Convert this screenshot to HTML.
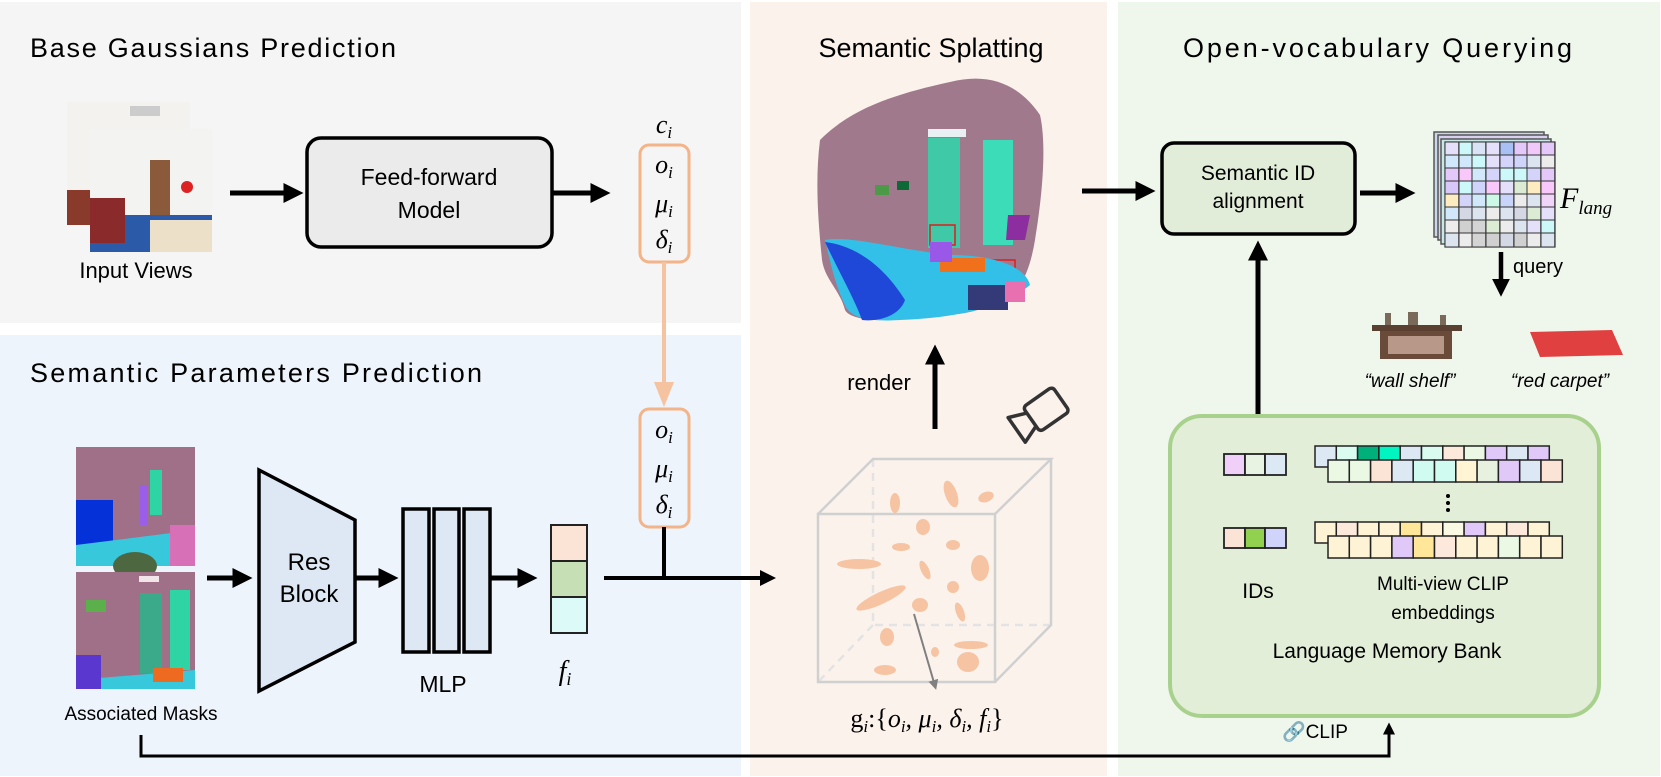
<!DOCTYPE html>
<html><head><meta charset="utf-8"><style>
html,body{margin:0;padding:0;background:#fff;}
svg{display:block;}
.t{font-family:"Liberation Sans",sans-serif;fill:#000;}
.m{font-family:"Liberation Serif",serif;font-style:italic;fill:#000;}
</style></head><body>
<svg width="1661" height="777" viewBox="0 0 1661 777" xmlns="http://www.w3.org/2000/svg">
<defs>
<marker id="ah" markerWidth="4" markerHeight="4" refX="2.5" refY="2" orient="auto" markerUnits="strokeWidth"><path d="M0,0 L4,2 L0,4 z" fill="#000"/></marker>
<marker id="ahg" markerWidth="5" markerHeight="5" refX="3" refY="2.5" orient="auto" markerUnits="strokeWidth"><path d="M0,0 L5,2.5 L0,5 z" fill="#808080"/></marker>
</defs>
<rect x="0" y="2" width="741" height="321" fill="#f5f5f5"/>
<rect x="0" y="335" width="741" height="441" fill="#edf4fb"/>
<rect x="750" y="2" width="357" height="774" fill="#fbf2ec"/>
<rect x="1118" y="2" width="542" height="774" fill="#eff6ec"/>

<text class="t" x="30" y="57" font-size="27" textLength="366">Base Gaussians Prediction</text>
<text class="t" x="30" y="382" font-size="27" textLength="452">Semantic Parameters Prediction</text>
<text class="t" x="931" y="57" font-size="27" text-anchor="middle">Semantic Splatting</text>
<text class="t" x="1183" y="57" font-size="27" textLength="389">Open-vocabulary Querying</text>

<rect x="67" y="102" width="123" height="123" fill="#f4f2ef"/>
<rect x="130" y="106" width="30" height="10" fill="#ccc"/>
<rect x="67" y="190" width="40" height="35" fill="#8a3a2a"/>
<rect x="90" y="129" width="122" height="123" fill="#f3f3f1"/>
<rect x="150" y="160" width="20" height="60" fill="#8a5a3a"/>
<rect x="90" y="215" width="122" height="37" fill="#2a5aa8"/>
<rect x="90" y="198" width="35" height="45" fill="#8a2a2a"/>
<rect x="150" y="220" width="62" height="32" fill="#ece0c8"/>
<circle cx="187" cy="187" r="6" fill="#d22"/>
<text class="t" x="136" y="278" font-size="22" text-anchor="middle">Input Views</text>

<line x1="230" y1="193" x2="296" y2="193" stroke="#000" stroke-width="5" marker-end="url(#ah)"/>
<rect x="307" y="138" width="245" height="109" rx="14" fill="#ebebeb" stroke="#000" stroke-width="3.5"/>
<text class="t" x="429" y="185" font-size="23" text-anchor="middle">Feed-forward</text>
<text class="t" x="429" y="218" font-size="23" text-anchor="middle">Model</text>
<line x1="552" y1="193" x2="603" y2="193" stroke="#000" stroke-width="5" marker-end="url(#ah)"/>

<text class="m" x="664" y="133" font-size="26" text-anchor="middle">c<tspan font-size="17" dy="5">i</tspan></text>
<rect x="640" y="145" width="49" height="117" rx="9" fill="none" stroke="#f4b489" stroke-width="3"/>
<text class="m" x="664" y="173" font-size="26" text-anchor="middle">o<tspan font-size="17" dy="5">i</tspan></text>
<text class="m" x="664" y="212" font-size="26" text-anchor="middle">μ<tspan font-size="17" dy="5">i</tspan></text>
<text class="m" x="664" y="248" font-size="26" text-anchor="middle">δ<tspan font-size="17" dy="5">i</tspan></text>
<line x1="664" y1="262" x2="664" y2="384" stroke="#f6c3a0" stroke-width="4"/>
<path d="M654,382 L674,382 L664,407 z" fill="#f6c3a0"/>
<rect x="640" y="409" width="49" height="118" rx="9" fill="none" stroke="#f4b489" stroke-width="3"/>
<text class="m" x="664" y="438" font-size="26" text-anchor="middle">o<tspan font-size="17" dy="5">i</tspan></text>
<text class="m" x="664" y="477" font-size="26" text-anchor="middle">μ<tspan font-size="17" dy="5">i</tspan></text>
<text class="m" x="664" y="513" font-size="26" text-anchor="middle">δ<tspan font-size="17" dy="5">i</tspan></text>
<line x1="664" y1="527" x2="664" y2="578" stroke="#000" stroke-width="4"/>
<line x1="604" y1="578" x2="770" y2="578" stroke="#000" stroke-width="4" marker-end="url(#ah)"/>

<rect x="76" y="447" width="119" height="119" fill="#9f7088"/>
<rect x="76" y="500" width="37" height="60" fill="#0532d8"/>
<path d="M76,545 L195,530 L195,566 L76,566z" fill="#38c8dc"/>
<rect x="140" y="485" width="8" height="40" fill="#9b5ee8"/>
<rect x="150" y="470" width="12" height="45" fill="#2ed4a4"/>
<ellipse cx="135" cy="566" rx="22" ry="14" fill="#4d6840"/>
<rect x="170" y="525" width="25" height="41" fill="#d870b8"/>
<rect x="76" y="572" width="119" height="117" fill="#9f7088"/>
<rect x="140" y="593" width="22" height="80" fill="#3aaa8a"/>
<rect x="170" y="590" width="20" height="80" fill="#2ed4a4"/>
<rect x="86" y="600" width="20" height="12" fill="#5cb04c"/>
<path d="M76,680 L195,670 L195,689 L76,689z" fill="#38c8dc"/>
<rect x="76" y="655" width="25" height="34" fill="#5a38d0"/>
<rect x="153" y="668" width="30" height="14" fill="#ee6a20"/>
<rect x="139" y="576" width="20" height="6" fill="#f3e4ea"/>
<text class="t" x="141" y="720" font-size="19" text-anchor="middle">Associated Masks</text>

<line x1="207" y1="578" x2="245" y2="578" stroke="#000" stroke-width="5" marker-end="url(#ah)"/>
<path d="M259,470 L355,520 L355,642 L259,691 z" fill="#dde8f4" stroke="#000" stroke-width="3.5"/>
<text class="t" x="309" y="570" font-size="24" text-anchor="middle">Res</text>
<text class="t" x="309" y="602" font-size="24" text-anchor="middle">Block</text>
<line x1="355" y1="578" x2="391" y2="578" stroke="#000" stroke-width="5" marker-end="url(#ah)"/>
<rect x="403" y="509" width="26" height="143" fill="#dde8f4" stroke="#000" stroke-width="3.5"/>
<rect x="434" y="509" width="25" height="143" fill="#dde8f4" stroke="#000" stroke-width="3.5"/>
<rect x="464" y="509" width="26" height="143" fill="#dde8f4" stroke="#000" stroke-width="3.5"/>
<text class="t" x="443" y="692" font-size="23" text-anchor="middle">MLP</text>
<line x1="490" y1="578" x2="530" y2="578" stroke="#000" stroke-width="5" marker-end="url(#ah)"/>
<rect x="551" y="525" width="36" height="36" fill="#fbe4d6" stroke="#222" stroke-width="2"/>
<rect x="551" y="561" width="36" height="36" fill="#c6dfb4" stroke="#222" stroke-width="2"/>
<rect x="551" y="597" width="36" height="36" fill="#dcfbf8" stroke="#222" stroke-width="2"/>
<text class="m" x="565" y="680" font-size="28" text-anchor="middle">f<tspan font-size="18" dy="5">i</tspan></text>

<polyline points="141,735 141,756 1389,756 1389,727" fill="none" stroke="#000" stroke-width="3" marker-end="url(#ah)"/>
<text class="t" x="1282" y="738" font-size="19">🔗CLIP</text>

<path d="M820,140 C850,110 890,95 950,82 C990,72 1020,85 1040,115 C1048,150 1040,210 1035,240 C1030,270 1020,300 990,305 C960,320 930,312 900,318 C880,322 850,320 845,310 C840,290 825,280 822,260 C818,220 815,180 820,140z" fill="#a07a8c"/>
<rect x="928" y="138" width="32" height="110" fill="#3fc9a6"/>
<rect x="983" y="140" width="30" height="105" fill="#3cdcb8"/>
<rect x="928" y="129" width="38" height="8" fill="#e8f0f4"/>
<rect x="930" y="225" width="25" height="20" fill="none" stroke="#e01c1c" stroke-width="1.5"/>
<rect x="990" y="260" width="25" height="20" fill="none" stroke="#e01c1c" stroke-width="1.5"/>
<path d="M825,240 C850,235 900,250 950,255 C990,255 1025,265 1030,285 C1000,310 950,318 900,320 C870,322 850,318 845,305 C835,285 830,260 825,240z" fill="#33c0e8"/>
<path d="M825,242 C850,245 880,260 905,300 C900,315 880,322 862,320 C855,300 838,270 825,242z" fill="#1f48d8"/>
<rect x="940" y="258" width="45" height="14" fill="#f0701c"/>
<rect x="930" y="242" width="22" height="20" fill="#9a58e8"/>
<path d="M1008,215 L1030,215 L1025,240 L1006,240z" fill="#8c2ea0"/>
<rect x="875" y="185" width="14" height="10" fill="#4c9a48"/>
<rect x="897" y="181" width="12" height="9" fill="#0d6a38"/>
<rect x="968" y="285" width="40" height="25" fill="#343a78"/>
<rect x="1005" y="282" width="20" height="20" fill="#e870b0"/>
<line x1="935" y1="429" x2="935" y2="352" stroke="#000" stroke-width="5" marker-end="url(#ah)"/>
<text class="t" x="879" y="390" font-size="22" text-anchor="middle">render</text>
<g transform="translate(1038,415) rotate(-35)" fill="none" stroke="#333" stroke-width="3.5" stroke-linejoin="round">
<rect x="-8" y="-15" width="36" height="30" rx="4"/>
<path d="M-8,-8 L-26,-15 L-26,15 L-8,8"/>
</g>
<g fill="none" stroke="#d0d0d0" stroke-width="2.5">
<path d="M873,459 L873,625 L1051,625 M873,625 L818,682" stroke="#e3e3e3" stroke-dasharray="8,6"/>
<rect x="818" y="514" width="177" height="168"/>
<path d="M818,514 L873,459 L1051,459 L995,514 M1051,459 L1051,625 L995,682"/>
</g>
<g fill="#f6c4a2">
<ellipse cx="895" cy="503" rx="5" ry="10"/>
<ellipse cx="951" cy="494" rx="6" ry="14" transform="rotate(-20 951 494)"/>
<ellipse cx="986" cy="497" rx="8" ry="5" transform="rotate(-20 986 497)"/>
<ellipse cx="923" cy="527" rx="7" ry="8"/>
<ellipse cx="901" cy="547" rx="9" ry="4"/>
<ellipse cx="953" cy="545" rx="7" ry="5"/>
<ellipse cx="859" cy="564" rx="22" ry="5"/>
<ellipse cx="925" cy="570" rx="4" ry="10" transform="rotate(-25 925 570)"/>
<ellipse cx="980" cy="568" rx="9" ry="13"/>
<ellipse cx="881" cy="598" rx="27" ry="6" transform="rotate(-25 881 598)"/>
<ellipse cx="953" cy="587" rx="6" ry="6"/>
<ellipse cx="920" cy="605" rx="8" ry="7"/>
<ellipse cx="960" cy="612" rx="4" ry="10" transform="rotate(-20 960 612)"/>
<ellipse cx="887" cy="637" rx="7" ry="9"/>
<ellipse cx="971" cy="645" rx="17" ry="4"/>
<ellipse cx="935" cy="652" rx="4" ry="5"/>
<ellipse cx="968" cy="662" rx="11" ry="10"/>
<ellipse cx="885" cy="670" rx="11" ry="5"/>
</g>
<line x1="914" y1="614" x2="935" y2="686" stroke="#808080" stroke-width="2" marker-end="url(#ahg)"/>
<text x="927" y="727" font-size="26" text-anchor="middle" class="m"><tspan font-style="normal">g</tspan><tspan font-size="17" dy="5">i</tspan><tspan dy="-5" font-style="normal">:{</tspan>o<tspan font-size="17" dy="5">i</tspan><tspan dy="-5">, μ</tspan><tspan font-size="17" dy="5">i</tspan><tspan dy="-5">, δ</tspan><tspan font-size="17" dy="5">i</tspan><tspan dy="-5">, f</tspan><tspan font-size="17" dy="5">i</tspan><tspan dy="-5" font-style="normal">}</tspan></text>

<line x1="1082" y1="191" x2="1148" y2="191" stroke="#000" stroke-width="5" marker-end="url(#ah)"/>
<rect x="1162" y="143" width="193" height="91" rx="12" fill="#e2edd9" stroke="#000" stroke-width="3.5"/>
<text class="t" x="1258" y="180" font-size="21" text-anchor="middle">Semantic ID</text>
<text class="t" x="1258" y="208" font-size="21" text-anchor="middle">alignment</text>
<line x1="1360" y1="193" x2="1408" y2="193" stroke="#000" stroke-width="5" marker-end="url(#ah)"/>
<g stroke="#555" stroke-width="1.5">
<rect x="1434" y="132" width="110" height="105" fill="#c9d8e8"/>
<rect x="1438" y="135" width="110" height="105" fill="#d8d0ee"/>
<rect x="1441" y="139" width="110" height="105" fill="#c8e8e8"/>
</g>
<rect x="1445" y="142" width="110" height="105" fill="#e0e6f2" stroke="#333" stroke-width="1.2"/>
<g stroke="#333" stroke-width="1">
<rect x="1445" y="142" width="13.75" height="13" fill="#e4e0fa"/><rect x="1459" y="142" width="13.75" height="13" fill="#ccf8fa"/><rect x="1472" y="142" width="13.75" height="13" fill="#d8e4f6"/><rect x="1486" y="142" width="13.75" height="13" fill="#e4e0fa"/><rect x="1500" y="142" width="13.75" height="13" fill="#a8c0f4"/><rect x="1514" y="142" width="13.75" height="13" fill="#e4c8fa"/><rect x="1527" y="142" width="13.75" height="13" fill="#f0c8fa"/><rect x="1541" y="142" width="13.75" height="13" fill="#e4c8fa"/>
<rect x="1445" y="155" width="13.75" height="13" fill="#d0e8fa"/><rect x="1459" y="155" width="13.75" height="13" fill="#d0e8fa"/><rect x="1472" y="155" width="13.75" height="13" fill="#ccf8fa"/><rect x="1486" y="155" width="13.75" height="13" fill="#e4e0fa"/><rect x="1500" y="155" width="13.75" height="13" fill="#d4d4fa"/><rect x="1514" y="155" width="13.75" height="13" fill="#d0d4fa"/><rect x="1527" y="155" width="13.75" height="13" fill="#dce4f0"/><rect x="1541" y="155" width="13.75" height="13" fill="#ececec"/>
<rect x="1445" y="168" width="13.75" height="13" fill="#e4c8fa"/><rect x="1459" y="168" width="13.75" height="13" fill="#f8c8fa"/><rect x="1472" y="168" width="13.75" height="13" fill="#d0e8fa"/><rect x="1486" y="168" width="13.75" height="13" fill="#d4d4fa"/><rect x="1500" y="168" width="13.75" height="13" fill="#ccf8fa"/><rect x="1514" y="168" width="13.75" height="13" fill="#ccf8fa"/><rect x="1527" y="168" width="13.75" height="13" fill="#d4d4fa"/><rect x="1541" y="168" width="13.75" height="13" fill="#e4c8fa"/>
<rect x="1445" y="181" width="13.75" height="13" fill="#d8c8fa"/><rect x="1459" y="181" width="13.75" height="13" fill="#ccf8fa"/><rect x="1472" y="181" width="13.75" height="13" fill="#d0d4fa"/><rect x="1486" y="181" width="13.75" height="13" fill="#f8c8fa"/><rect x="1500" y="181" width="13.75" height="13" fill="#e4e0fa"/><rect x="1514" y="181" width="13.75" height="13" fill="#dcecd4"/><rect x="1527" y="181" width="13.75" height="13" fill="#fcecc0"/><rect x="1541" y="181" width="13.75" height="13" fill="#f8c8fa"/>
<rect x="1445" y="194" width="13.75" height="13" fill="#fcecc0"/><rect x="1459" y="194" width="13.75" height="13" fill="#d4d4fa"/><rect x="1472" y="194" width="13.75" height="13" fill="#d0e8fa"/><rect x="1486" y="194" width="13.75" height="13" fill="#ccf8e8"/><rect x="1500" y="194" width="13.75" height="13" fill="#c8d4fa"/><rect x="1514" y="194" width="13.75" height="13" fill="#ececec"/><rect x="1527" y="194" width="13.75" height="13" fill="#dce4f0"/><rect x="1541" y="194" width="13.75" height="13" fill="#f0d4fa"/>
<rect x="1445" y="207" width="13.75" height="13" fill="#d0e8fa"/><rect x="1459" y="207" width="13.75" height="13" fill="#d4d8e4"/><rect x="1472" y="207" width="13.75" height="13" fill="#dce4f0"/><rect x="1486" y="207" width="13.75" height="13" fill="#ececec"/><rect x="1500" y="207" width="13.75" height="13" fill="#dce4f0"/><rect x="1514" y="207" width="13.75" height="13" fill="#d4d8e4"/><rect x="1527" y="207" width="13.75" height="13" fill="#dcecd4"/><rect x="1541" y="207" width="13.75" height="13" fill="#e4e0fa"/>
<rect x="1445" y="220" width="13.75" height="13" fill="#ececec"/><rect x="1459" y="220" width="13.75" height="13" fill="#d0d0d0"/><rect x="1472" y="220" width="13.75" height="13" fill="#d4d4d4"/><rect x="1486" y="220" width="13.75" height="13" fill="#dcecd4"/><rect x="1500" y="220" width="13.75" height="13" fill="#ececec"/><rect x="1514" y="220" width="13.75" height="13" fill="#dce4f0"/><rect x="1527" y="220" width="13.75" height="13" fill="#e4e0fa"/><rect x="1541" y="220" width="13.75" height="13" fill="#ccf8fa"/>
<rect x="1445" y="233" width="13.75" height="14" fill="#dce4f0"/><rect x="1459" y="233" width="13.75" height="14" fill="#ececec"/><rect x="1472" y="233" width="13.75" height="14" fill="#d4d4d4"/><rect x="1486" y="233" width="13.75" height="14" fill="#d0d0d0"/><rect x="1500" y="233" width="13.75" height="14" fill="#d4d8e4"/><rect x="1514" y="233" width="13.75" height="14" fill="#d0d0d0"/><rect x="1527" y="233" width="13.75" height="14" fill="#ececec"/><rect x="1541" y="233" width="13.75" height="14" fill="#dce4f0"/>
</g>
<text class="m" x="1560" y="208" font-size="30">F<tspan font-size="19" dy="6">lang</tspan></text>
<line x1="1501" y1="252" x2="1501" y2="290" stroke="#000" stroke-width="4.5" marker-end="url(#ah)"/>
<text class="t" x="1513" y="273" font-size="20">query</text>
<rect x="1372" y="325" width="90" height="6" fill="#5a4030"/>
<rect x="1380" y="331" width="72" height="28" fill="#6a4a38"/>
<rect x="1388" y="336" width="56" height="18" fill="#b89888"/>
<rect x="1385" y="313" width="6" height="12" fill="#7a6a5a"/><rect x="1408" y="312" width="10" height="13" fill="#7a6a5a"/><rect x="1440" y="315" width="6" height="10" fill="#7a6a5a"/>
<path d="M1530,332 L1612,330 L1623,355 L1540,357z" fill="#e04040"/>
<text class="t" x="1410" y="387" font-size="19" font-style="italic" text-anchor="middle">“wall shelf”</text>
<text class="t" x="1560" y="387" font-size="19" font-style="italic" text-anchor="middle">“red carpet”</text>

<line x1="1258" y1="416" x2="1258" y2="248" stroke="#000" stroke-width="5" marker-end="url(#ah)"/>
<rect x="1170" y="416" width="429" height="300" rx="32" fill="#e2eed8" stroke="#a9d18e" stroke-width="4"/>
<g stroke="#222" stroke-width="1.8">
<rect x="1224" y="454" width="21" height="21" fill="#f0d0f8"/><rect x="1245" y="454" width="20" height="21" fill="#e8f3e4"/><rect x="1265" y="454" width="21" height="21" fill="#dce8f4"/>
<rect x="1224" y="528" width="21" height="20" fill="#fbe3d5"/><rect x="1245" y="528" width="20" height="20" fill="#92d050"/><rect x="1265" y="528" width="21" height="20" fill="#d0d4fb"/>
</g>
<g stroke="#222" stroke-width="1.5">
<rect x="1315" y="446" width="21.3" height="21" fill="#dce8f4"/><rect x="1336.3" y="446" width="21.3" height="21" fill="#d9fbf0"/><rect x="1357.6" y="446" width="21.3" height="21" fill="#00b07a"/><rect x="1378.9" y="446" width="21.3" height="21" fill="#00f5c0"/><rect x="1400.2" y="446" width="21.3" height="21" fill="#dce8f4"/><rect x="1421.5" y="446" width="21.3" height="21" fill="#d9fbf0"/><rect x="1442.8" y="446" width="21.3" height="21" fill="#fde9dc"/><rect x="1464.1" y="446" width="21.3" height="21" fill="#eaf8e4"/><rect x="1485.4" y="446" width="21.3" height="21" fill="#e0c8f8"/><rect x="1506.7" y="446" width="21.3" height="21" fill="#dce8f4"/><rect x="1528" y="446" width="21.3" height="21" fill="#e0c8f8"/>
<rect x="1328" y="460" width="21.3" height="22" fill="#eaf8e4"/><rect x="1349.3" y="460" width="21.3" height="22" fill="#eaf8e4"/><rect x="1370.6" y="460" width="21.3" height="22" fill="#fbe3d5"/><rect x="1391.9" y="460" width="21.3" height="22" fill="#dce8f4"/><rect x="1413.2" y="460" width="21.3" height="22" fill="#d0fbf0"/><rect x="1434.5" y="460" width="21.3" height="22" fill="#d0fbf0"/><rect x="1455.8" y="460" width="21.3" height="22" fill="#fff5d5"/><rect x="1477.1" y="460" width="21.3" height="22" fill="#e8f0e0"/><rect x="1498.4" y="460" width="21.3" height="22" fill="#e0c8f8"/><rect x="1519.7" y="460" width="21.3" height="22" fill="#dce8f4"/><rect x="1541" y="460" width="21.3" height="22" fill="#fbe3d5"/>
<rect x="1315" y="522" width="21.3" height="21" fill="#fff3d5"/><rect x="1336.3" y="522" width="21.3" height="21" fill="#fde9dc"/><rect x="1357.6" y="522" width="21.3" height="21" fill="#fff3d5"/><rect x="1378.9" y="522" width="21.3" height="21" fill="#fff3d5"/><rect x="1400.2" y="522" width="21.3" height="21" fill="#ffe699"/><rect x="1421.5" y="522" width="21.3" height="21" fill="#fff3d5"/><rect x="1442.8" y="522" width="21.3" height="21" fill="#fafae4"/><rect x="1464.1" y="522" width="21.3" height="21" fill="#e0c8f8"/><rect x="1485.4" y="522" width="21.3" height="21" fill="#fff3d5"/><rect x="1506.7" y="522" width="21.3" height="21" fill="#fde9dc"/><rect x="1528" y="522" width="21.3" height="21" fill="#fff3d5"/>
<rect x="1328" y="536" width="21.3" height="22" fill="#fff3d5"/><rect x="1349.3" y="536" width="21.3" height="22" fill="#fff3d5"/><rect x="1370.6" y="536" width="21.3" height="22" fill="#fff3d5"/><rect x="1391.9" y="536" width="21.3" height="22" fill="#e0c8f8"/><rect x="1413.2" y="536" width="21.3" height="22" fill="#ffe699"/><rect x="1434.5" y="536" width="21.3" height="22" fill="#fde9dc"/><rect x="1455.8" y="536" width="21.3" height="22" fill="#fff3d5"/><rect x="1477.1" y="536" width="21.3" height="22" fill="#fff3d5"/><rect x="1498.4" y="536" width="21.3" height="22" fill="#eaf8e4"/><rect x="1519.7" y="536" width="21.3" height="22" fill="#fff3d5"/><rect x="1541" y="536" width="21.3" height="22" fill="#fff3d5"/>
</g>
<circle cx="1448" cy="496" r="2" fill="#000"/><circle cx="1448" cy="503" r="2" fill="#000"/><circle cx="1448" cy="510" r="2" fill="#000"/>
<text class="t" x="1258" y="598" font-size="21" text-anchor="middle">IDs</text>
<text class="t" x="1443" y="590" font-size="19" text-anchor="middle">Multi-view CLIP</text>
<text class="t" x="1443" y="619" font-size="19" text-anchor="middle">embeddings</text>
<text class="t" x="1387" y="658" font-size="21" text-anchor="middle">Language Memory Bank</text>
</svg>
</body></html>
